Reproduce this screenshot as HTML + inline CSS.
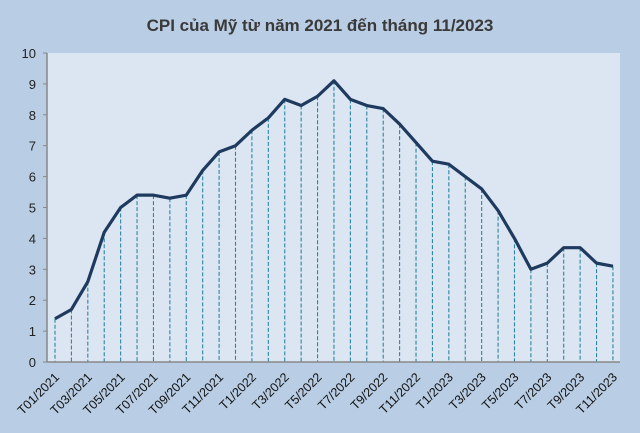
<!DOCTYPE html>
<html><head><meta charset="utf-8"><style>
body{margin:0;background:#b9cde4;}
svg{display:block;font-family:"Liberation Sans",sans-serif;}
</style></head><body>
<svg width="640" height="433" xmlns="http://www.w3.org/2000/svg">
<rect width="640" height="433" fill="#b9cde4"/>
<text x="320" y="31" text-anchor="middle" font-size="17" font-weight="bold" fill="#3a3a3a">CPI của Mỹ từ năm 2021 đến tháng 11/2023</text>
<rect x="47" y="53" width="573" height="309" fill="#dce6f2"/>
<g id="g"></g>
<line x1="47" y1="53" x2="47" y2="362" stroke="#888" stroke-width="1.5"/>
<line x1="47" y1="362" x2="620" y2="362" stroke="#888" stroke-width="1.5"/>
</svg>
<script>
const v=[1.4,1.7,2.6,4.2,5.0,5.4,5.4,5.3,5.4,6.2,6.8,7.0,7.5,7.9,8.5,8.3,8.6,9.1,8.5,8.3,8.2,7.7,7.1,6.5,6.4,6.0,5.6,4.9,4.0,3.0,3.2,3.7,3.7,3.2,3.1];
const lab=["T01/2021","T03/2021","T05/2021","T07/2021","T09/2021","T11/2021","T1/2022","T3/2022","T5/2022","T7/2022","T9/2022","T11/2022","T1/2023","T3/2023","T5/2023","T7/2023","T9/2023","T11/2023"];
const X=i=>55+i*16.41, Y=d=>362-d*30.9;
let s="";
for(let k=0;k<=10;k++){s+=`<line x1="43" x2="47" y1="${Y(k)}" y2="${Y(k)}" stroke="#888"/><text x="36" y="${Y(k)+5}" text-anchor="end" font-size="13" fill="#222">${k}</text>`;}
v.forEach((d,i)=>{s+=`<line x1="${X(i)}" x2="${X(i)}" y1="${Y(d)}" y2="362" stroke="#2a86a0" stroke-width="1.1" stroke-dasharray="4,2"/>`;});
s+=`<polyline fill="none" stroke="#1f3a5f" stroke-width="3.2" stroke-linejoin="round" points="${v.map((d,i)=>X(i)+','+Y(d)).join(' ')}"/>`;
lab.forEach((t,j)=>{const x=X(j*2)+5,y=378;s+=`<text transform="translate(${x},${y}) rotate(-45)" text-anchor="end" font-size="12.5" fill="#111">${t}</text>`;});
document.getElementById("g").innerHTML=s;
</script>
</body></html>
